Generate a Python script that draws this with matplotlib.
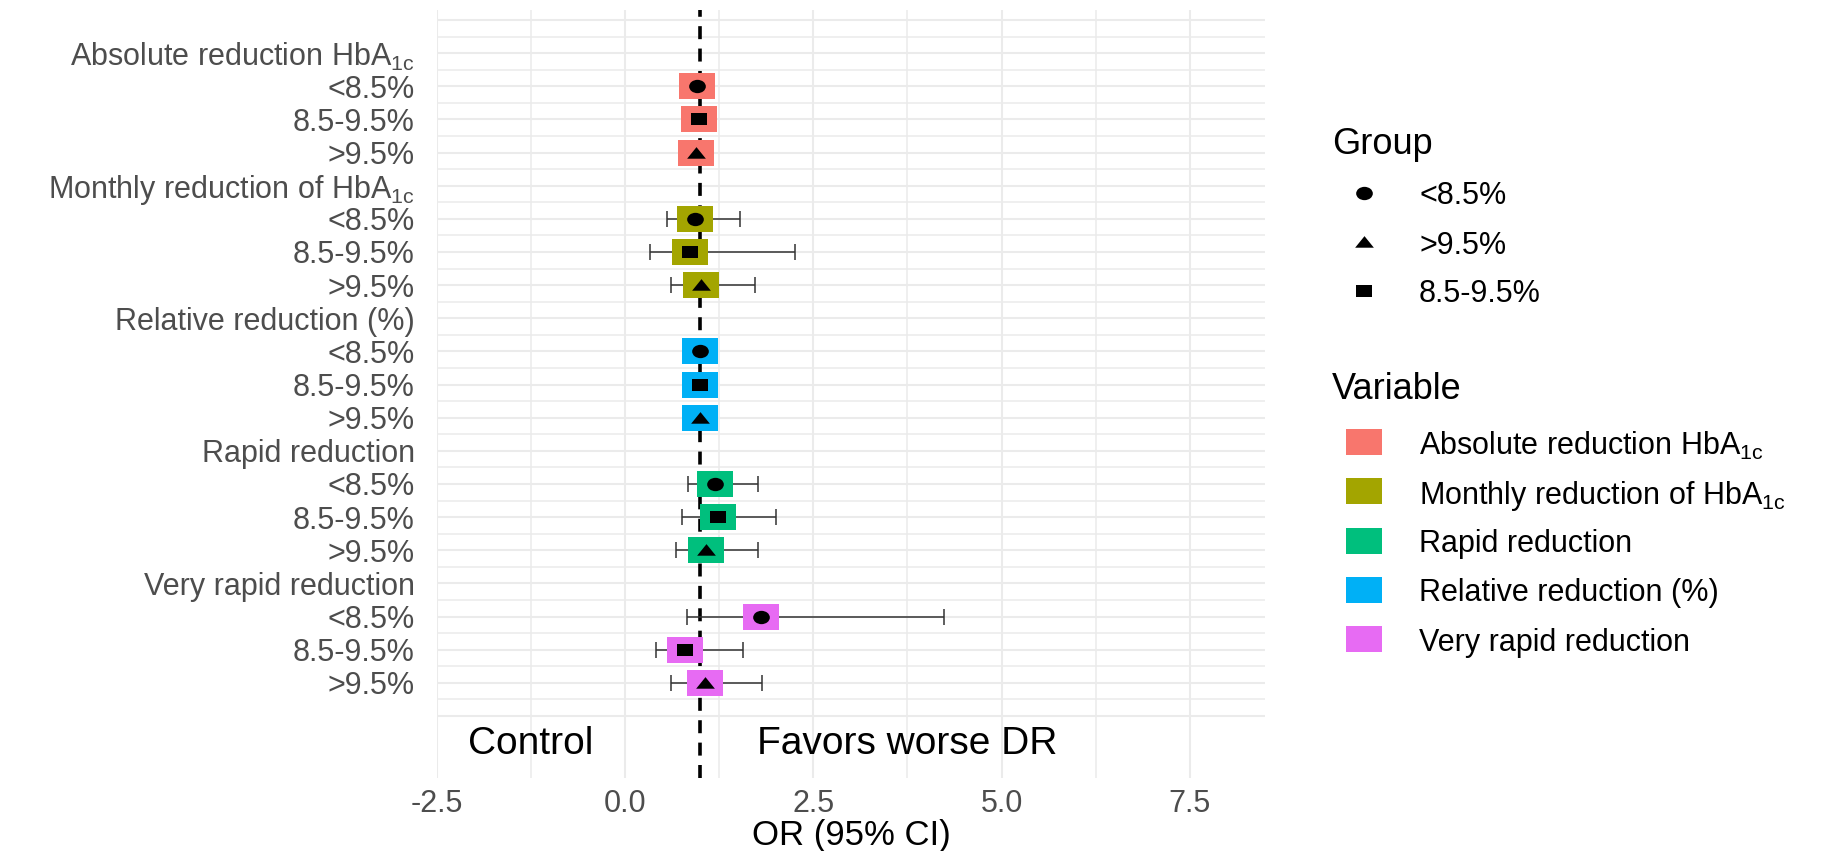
import matplotlib
matplotlib.use("Agg")
import matplotlib.pyplot as plt
from matplotlib.lines import Line2D
from matplotlib.path import Path
from matplotlib.transforms import Affine2D

plt.rcParams["font.family"] = ["Liberation Sans", "DejaVu Sans"]
plt.rcParams["mathtext.fontset"] = "custom"
plt.rcParams["mathtext.rm"] = "Liberation Sans"
plt.rcParams["mathtext.it"] = "Liberation Sans:italic"
plt.rcParams["mathtext.bf"] = "Liberation Sans:bold"

HBA = r"HbA$_{\mathrm{1c}}$"

# data, top to bottom as drawn
variables = ["Absolute reduction " + HBA, "Monthly reduction of " + HBA,
             "Relative reduction (%)", "Rapid reduction", "Very rapid reduction"]
var_colors = ["#F8766D", "#A3A500", "#00B0F6", "#00BF7D", "#E76BF3"]
groups = ["<8.5%", "8.5-9.5%", ">9.5%"]

odds = [[0.95, 0.98, 0.94],
        [0.93, 0.86, 1.01],
        [0.99, 0.99, 0.99],
        [1.20, 1.24, 1.08],
        [1.81, 0.80, 1.06]]
ci_low = [[0.90, 0.93, 0.89],
          [0.55, 0.33, 0.61],
          [0.96, 0.96, 0.95],
          [0.83, 0.76, 0.68],
          [0.82, 0.41, 0.61]]
ci_high = [[1.01, 1.04, 0.99],
           [1.52, 2.26, 1.72],
           [1.02, 1.02, 1.03],
           [1.76, 2.01, 1.76],
           [4.24, 1.56, 1.82]]

# legend order (ggplot sorts alphabetically)
legend_groups = ["<8.5%", ">9.5%", "8.5-9.5%"]
legend_vars = ["Absolute reduction " + HBA, "Monthly reduction of " + HBA,
               "Rapid reduction", "Relative reduction (%)", "Very rapid reduction"]
legend_colors = ["#F8766D", "#A3A500", "#00BF7D", "#00B0F6", "#E76BF3"]

x_ticks = [-2.5, 0.0, 2.5, 5.0, 7.5]


def stretched(verts):
    return Path(verts + [verts[0]], closed=True)


# the picture is a bit wider than tall, so the shapes are too
box = stretched([(-0.69, -0.5), (0.69, -0.5), (0.69, 0.5), (-0.69, 0.5)])
ellipse = Path.unit_circle().transformed(Affine2D().scale(1.25, 1.0))
tri = stretched([(-0.81, -0.45), (0.81, -0.45), (0.0, 0.55)])
sq = stretched([(-0.65, -0.5), (0.65, -0.5), (0.65, 0.5), (-0.65, 0.5)])
shape_of = {"<8.5%": (ellipse, 12.0), "8.5-9.5%": (sq, 11.0), ">9.5%": (tri, 13.5)}

fig = plt.figure(figsize=(18.35, 8.51), dpi=100)
ax = fig.add_axes([0.2381, 0.0858, 0.6894 - 0.2381, 0.9882 - 0.0858])

ax.axvline(1, color="black", lw=2.6, ls=(0, (3.6, 2.6)), zorder=2)

labels = [""]
for i, var in enumerate(variables):
    labels.append(var)
    for j, g in enumerate(groups):
        y = 2 + 4 * i + j
        labels.append(g)
        ax.errorbar(odds[i][j], y,
                    xerr=[[odds[i][j] - ci_low[i][j]], [ci_high[i][j] - odds[i][j]]],
                    fmt="none", ecolor="#333333", elinewidth=1.1, capsize=6,
                    capthick=1.1, zorder=3)
        ax.plot(odds[i][j], y, marker=box, ms=25.9, color=var_colors[i],
                mew=0, ls="none", zorder=4)
        mk, ms = shape_of[g]
        ax.plot(odds[i][j], y, marker=mk, ms=ms, color="black", mew=0,
                ls="none", zorder=5)
labels.append("")

ax.text(-1.25, 21.85, "Control", fontsize=28, ha="center", va="center")
ax.text(3.75, 21.85, "Favors worse DR", fontsize=28, ha="center", va="center")

ax.set_xlim(-2.5, 8.5)
ax.set_ylim(22.87, -0.30)
ax.set_xticks(x_ticks)
ax.set_xticklabels([f"{v:.1f}" for v in x_ticks])
ax.set_xticks([-1.25, 1.25, 3.75, 6.25], minor=True)
ax.set_yticks(range(len(labels)))
ax.set_yticklabels(labels)
ax.set_yticks([k + 0.5 for k in range(len(labels) - 1)], minor=True)

ax.grid(True, which="major", color="#EBEBEB", lw=1.5)
ax.grid(True, which="minor", color="#EBEBEB", lw=1.1)
ax.set_axisbelow(True)
for s in ax.spines.values():
    s.set_visible(False)
ax.tick_params(which="both", length=0)
ax.tick_params(axis="y", pad=16, labelsize=22, labelcolor="#4D4D4D")
ax.tick_params(axis="x", pad=8, labelsize=22, labelcolor="#4D4D4D")
ax.set_xlabel("OR (95% CI)", fontsize=25, labelpad=0)

# legends, placed by hand
W, H = 1835.0, 851.0
key_x = 1364 / W
text_x = 1419 / W
fig.text(1332 / W, 1 - 144 / H, "Group", fontsize=26, ha="left", va="center")
for k, g in enumerate(legend_groups):
    yy = 1 - (193 + 49 * k) / H
    mk, ms = shape_of[g]
    fig.add_artist(Line2D([key_x], [yy], marker=mk, ms=ms, color="black", mew=0,
                          ls="none", transform=fig.transFigure))
    fig.text(text_x, yy, g, fontsize=22, ha="left", va="center_baseline")

fig.text(1332 / W, 1 - 389 / H, "Variable", fontsize=26, ha="left", va="center")
for k, (v, c) in enumerate(zip(legend_vars, legend_colors)):
    yy = 1 - (442 + 49.25 * k) / H
    fig.add_artist(Line2D([key_x], [yy], marker=box, ms=25.9, color=c, mew=0,
                          ls="none", transform=fig.transFigure))
    fig.text(text_x, yy, v, fontsize=22, ha="left", va="center_baseline")

fig.savefig("out.png", dpi=100)
